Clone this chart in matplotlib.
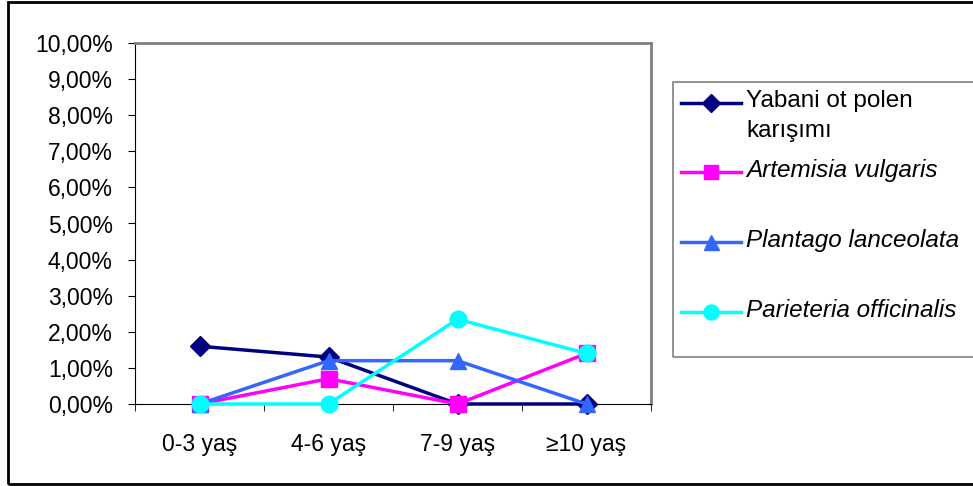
import matplotlib.pyplot as plt
from matplotlib.lines import Line2D
from matplotlib.patches import Rectangle
from matplotlib.ticker import FuncFormatter, MultipleLocator

plt.rcParams["font.family"] = ["Liberation Sans", "DejaVu Sans"]

# Data
categories = ["0-3 yaş", "4-6 yaş", "7-9 yaş", "≥10 yaş"]
yabani = [1.6, 1.3, 0.0, 0.0]
artemisia = [0.0, 0.7, 0.0, 1.4]
plantago = [0.0, 1.2, 1.2, 0.0]
parieteria = [0.0, 0.0, 2.35, 1.4]

series_labels = [
    "Yabani ot polen\nkarışımı",
    "Artemisia vulgaris",
    "Plantago lanceolata",
    "Parieteria officinalis",
]
series_colors = ["#000080", "#FF00FF", "#3366FF", "#00FFFF"]
series_markers = ["D", "s", "^", "o"]
series_msize = [10, 11, 12, 12]

W, H = 973, 486
fig = plt.figure(figsize=(W / 100, H / 100), dpi=100)
ax = fig.add_axes([135 / W, 1 - 404 / H, 516 / W, 361 / H])

x = range(len(categories))
for i, vals in enumerate([yabani, artemisia, plantago, parieteria]):
    ax.plot(x, vals, color=series_colors[i], marker=series_markers[i],
            markersize=series_msize[i], lw=2.5, clip_on=False, zorder=3 + i)

ax.set_xlim(-0.5, 3.5)
ax.set_ylim(0, 10)
ax.yaxis.set_major_locator(MultipleLocator(1))
ax.yaxis.set_major_formatter(FuncFormatter(lambda v, p: f"{v:.2f}%".replace(".", ",")))
ax.set_xticks(x)
ax.set_xticklabels(categories)
ax.set_xticks([-0.5, 0.5, 1.5, 2.5, 3.5], minor=True)
ax.tick_params(axis="x", which="major", length=0, pad=21, labelsize=16.5)
ax.tick_params(axis="x", which="minor", length=5, direction="out", color="black")
ax.tick_params(axis="y", length=5, direction="out", pad=11, labelsize=16.5)

for side in ["top", "right"]:
    ax.spines[side].set_color("#808080")
    ax.spines[side].set_linewidth(2)
ax.spines["left"].set_color("black")
ax.spines["bottom"].set_color("black")

# Outer chart border
fig.patches.append(Rectangle((8 / W, 2 / H), 1.0, 482 / H, transform=fig.transFigure,
                             fill=False, edgecolor="black", lw=2))

# Legend, drawn by hand so the first handle lines up with its first text line
fig.patches.append(Rectangle((673 / W, 1 - 357 / H), 1.0, 275 / H, transform=fig.transFigure,
                             fill=False, edgecolor="#808080", lw=1.2))
row_y = [103, 172, 242, 312]
for i, lab in enumerate(series_labels):
    yf = 1 - row_y[i] / H
    fig.add_artist(Line2D([681 / W, 741 / W], [yf, yf], transform=fig.transFigure,
                          color=series_colors[i], lw=2.5))
    fig.add_artist(Line2D([711 / W], [yf], transform=fig.transFigure,
                          color=series_colors[i], marker=series_markers[i],
                          markersize=series_msize[i] * 0.9, lw=0))
    fig.text(746 / W, yf + 13 / H, lab, ha="left", va="top", fontsize=17.5,
             style="normal" if i == 0 else "italic", linespacing=1.45)

fig.savefig("out.png", dpi=100)
